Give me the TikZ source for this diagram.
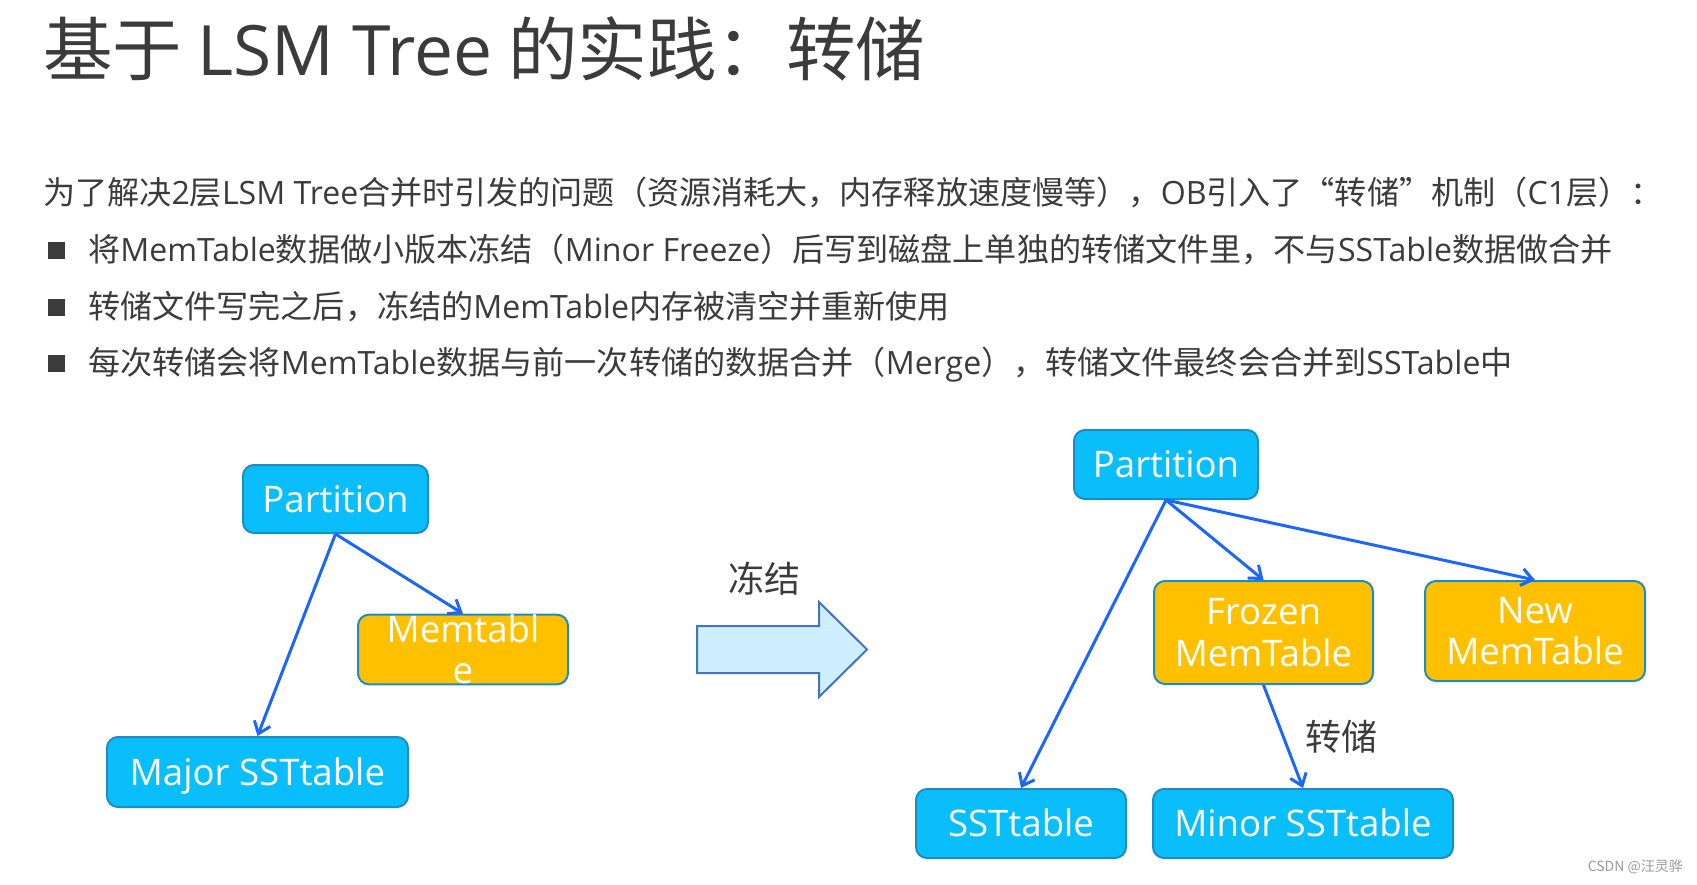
\documentclass[tikz,border=0pt]{standalone}
\usepackage{fontspec}
\setmainfont{Noto Sans CJK SC}
\newfontfamily\lat{Open Sans}
\usetikzlibrary{arrows.meta}

\definecolor{ink}{HTML}{3B3B3B}
\definecolor{skyfill}{HTML}{0ABEFC}
\definecolor{goldfill}{HTML}{FFC000}
\definecolor{boxline}{HTML}{1C8CC4}
\definecolor{edgeblue}{HTML}{1B67FA}
\definecolor{bigarrowfill}{HTML}{CDEFFF}
\definecolor{bigarrowline}{HTML}{4472C4}
\definecolor{markgray}{HTML}{9A9A9A}

\tikzset{
  titletext/.style={anchor=base west, text=ink, inner sep=0pt,
    font=\fontsize{69.5pt}{80pt}\selectfont},
  bodytext/.style={anchor=base west, text=ink, inner sep=0pt,
    font=\fontsize{32.1pt}{38pt}\selectfont},
  bulletbox/.style={fill=ink, draw=none, minimum size=17pt, inner sep=0pt},
  treebox/.style={draw=boxline, line width=2pt, rounded corners=11pt,
    inner sep=0pt, text=white, font=\lat\fontsize{36.6pt}{41.5pt}\selectfont},
  skybox/.style={treebox, fill=skyfill},
  goldbox/.style={treebox, fill=goldfill, align=center},
  oneline/.style={text height=26pt, text depth=0pt},
  link/.style={draw=edgeblue, line width=3pt,
    -{Straight Barb[length=11pt,width=17pt]}},
  cjklabel/.style={text=ink, inner sep=0pt,
    font=\fontsize{36pt}{40pt}\selectfont},
}

\begin{document}
\begin{tikzpicture}[x=1pt,y=-1pt]
\useasboundingbox (0,0) rectangle (1697,884);

% heading
\node[titletext] (title) at (43,75) {基于 {\lat LSM Tree} 的实践：转储};

% explanatory text and bullet list
\node[bodytext] (intro) at (43,204)
  {为了解决{\lat 2}层{\lat LSM Tree}合并时引发的问题（资源消耗大，内存释放速度慢等），{\lat OB}引入了“转储”机制（{\lat C1}层）：};
\node[bulletbox] (b1) at (56,250) {};
\node[bodytext] (p1) at (88,261)
  {将{\lat MemTable}数据做小版本冻结（{\lat Minor Freeze}）后写到磁盘上单独的转储文件里，不与{\lat SSTable}数据做合并};
\node[bulletbox] (b2) at (56,307) {};
\node[bodytext] (p2) at (88,318)
  {转储文件写完之后，冻结的{\lat MemTable}内存被清空并重新使用};
\node[bulletbox] (b3) at (56,363) {};
\node[bodytext] (p3) at (88,374)
  {每次转储会将{\lat MemTable}数据与前一次转储的数据合并（{\lat Merge}），转储文件最终会合并到{\lat SSTable}中};

% tree before the freeze
\node[skybox, oneline, minimum width=185pt, minimum height=68pt] (lpart) at (335.5,499) {Partition};
\node[goldbox, minimum width=210pt, minimum height=67pt] (lmem) at (463,649.5) {Memtabl\\e};
\node[skybox, oneline, minimum width=301pt, minimum height=70pt] (lmajor) at (257.5,772) {Major SSTtable};
\draw[link] (lpart.south) -- (lmem.north);
\draw[link] (lpart.south) -- (lmajor.north);

% freeze step
\node[cjklabel] (freeze) at (764,579) {冻结};
\draw[fill=bigarrowfill, draw=bigarrowline, line width=2pt, line join=miter]
  (697,626) -- (819,626) -- (819,602) -- (867,649.5) -- (819,697) -- (819,673) -- (697,673) -- cycle;

% tree after the freeze
\node[skybox, oneline, minimum width=184pt, minimum height=69pt] (rpart) at (1166,464.5) {Partition};
\node[goldbox, minimum width=219pt, minimum height=103pt] (rfrozen) at (1263.5,632.5) {Frozen\\MemTable};
\node[goldbox, minimum width=220pt, minimum height=100pt] (rnew) at (1535,631) {New\\MemTable};
\node[skybox, oneline, minimum width=210pt, minimum height=69pt] (rsst) at (1021,823.5) {SSTtable};
\node[skybox, oneline, minimum width=300pt, minimum height=69pt] (rminor) at (1303,823.5) {Minor SSTtable};
\draw[link] (rpart.south) -- (rsst.north);
\draw[link] (rpart.south) -- (rfrozen.north);
\draw[link] (rpart.south) -- (rnew.north);
\draw[link] (rfrozen.south) -- node[cjklabel, anchor=west, xshift=21pt] (dump) {转储} (rminor.north);

% watermark
\node[anchor=east, text=markgray, inner sep=0pt, font=\fontsize{14pt}{16pt}\selectfont] (mark) at (1683,867) {CSDN @汪灵骅};
\end{tikzpicture}
\end{document}
